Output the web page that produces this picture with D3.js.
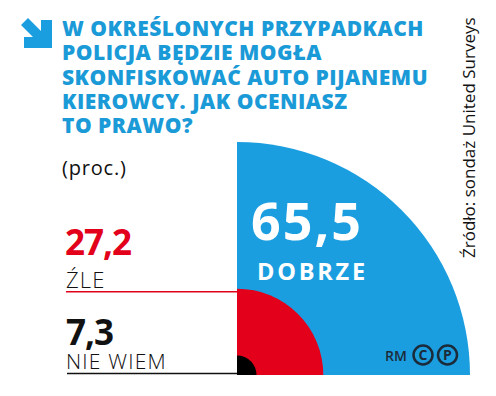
<!DOCTYPE html>
<html><head><meta charset="utf-8">
<script src="https://cdn.jsdelivr.net/npm/d3@7"></script>
<style>
html,body{margin:0;padding:0;background:#fff;}
svg{display:block;}
text{font-family:"Open Sans","DejaVu Sans",sans-serif;}
</style></head>
<body>
<script>
const categories = ["DOBRZE", "ŹLE", "NIE WIEM"];
const values = [65.5, 27.2, 7.3];
const valueLabels = ["65,5", "27,2", "7,3"];
const colors = ["#1b9ee0", "#e2001a", "#000000"];
const titleLines = ["W OKREŚLONYCH PRZYPADKACH", "POLICJA BĘDZIE MOGŁA", "SKONFISKOWAĆ AUTO PIJANEMU", "KIEROWCY. JAK OCENIASZ", "TO PRAWO?"];
const unitLabel = "(proc.)";
const sourceLabel = "Źródło: sondaż United Surveys";

const W = 496, H = 396;
const svg = d3.select("body").append("svg").attr("width", W).attr("height", H);

// arrow icon
svg.append("polygon")
  .attr("points", "41,20 52,20 52,48 24,48 24,37 33,37 21,25 28,18 41,31")
  .attr("fill", "#1b9ee0");

// title
const title = svg.append("text").attr("fill", "#1a9ad7").attr("font-weight", 800)
  .attr("font-size", 21).attr("letter-spacing", 0.5);
titleLines.forEach((t, i) => {
  title.append("tspan").attr("x", 62).attr("y", 36 + i * 24.3).text(t);
});

svg.append("text").attr("x", 62).attr("y", 175).attr("font-size", 20).attr("font-weight", 400)
  .attr("letter-spacing", 0.8).attr("fill", "#111").text(unitLabel);

// polar quarter chart
const cx = 237, cy = 375;
const r = d3.scalePow().exponent(1.13).domain([0, 65.5]).range([0, 233]);
const arc = d3.arc().innerRadius(0).startAngle(0).endAngle(Math.PI / 2).outerRadius(d => r(d));
const g = svg.append("g").attr("transform", `translate(${cx},${cy})`);
g.selectAll("path").data(values).join("path")
  .attr("d", d => arc(d))
  .attr("fill", (d, i) => colors[i]);

// leader lines
svg.append("line").attr("x1", 66).attr("x2", cx).attr("y1", cy - r(values[1]) + 3).attr("y2", cy - r(values[1]) + 3)
  .attr("stroke", "#e2001a").attr("stroke-width", 1.6);
svg.append("line").attr("x1", 67).attr("x2", cx).attr("y1", 373.5).attr("y2", 373.5)
  .attr("stroke", "#111").attr("stroke-width", 1.6);

// big label in blue
svg.append("text").attr("x", 251).attr("y", 240).attr("font-size", 52).attr("font-weight", 700)
  .attr("fill", "#fff").attr("letter-spacing", 2).text(valueLabels[0]);
svg.append("text").attr("x", 257).attr("y", 280).attr("font-size", 23.5).attr("font-weight", 700)
  .attr("fill", "#fff").attr("letter-spacing", 2.8).text(categories[0]);

// left labels
svg.append("text").attr("x", 65).attr("y", 255).attr("font-size", 35).attr("font-weight", 700)
  .attr("fill", "#e2001a").attr("letter-spacing", -1).text(valueLabels[1]);
svg.append("text").attr("x", 66).attr("y", 288).attr("font-size", 22).attr("font-weight", 300)
  .attr("letter-spacing", 1.2).attr("fill", "#111").text(categories[1]);
svg.append("text").attr("x", 66).attr("y", 345).attr("font-size", 35).attr("font-weight", 700)
  .attr("fill", "#111").attr("letter-spacing", -1).text(valueLabels[2]);
svg.append("text").attr("x", 66).attr("y", 369).attr("font-size", 21).attr("font-weight", 300)
  .attr("letter-spacing", 1.2).attr("fill", "#111").text(categories[2]);

// source (vertical)
svg.append("text").attr("transform", "translate(475,258) rotate(-90)")
  .attr("font-size", 17).attr("fill", "#111").text(sourceLabel);

// RM (C)(P)
const mark = svg.append("g");
mark.append("text").attr("x", 385).attr("y", 361).attr("font-size", 14).attr("font-weight", 600)
  .attr("fill", "#1c2b39").text("RM");
[423, 447.5].forEach((x, i) => {
  mark.append("circle").attr("cx", x).attr("cy", 355).attr("r", 9.5).attr("fill", "none")
    .attr("stroke", "#1c2b39").attr("stroke-width", 2.5);
  mark.append("text").attr("x", x).attr("y", 360).attr("text-anchor", "middle")
    .attr("font-size", 14).attr("font-weight", 700).attr("fill", "#1c2b39").text(i === 0 ? "C" : "P");
});
</script>
</body></html>
